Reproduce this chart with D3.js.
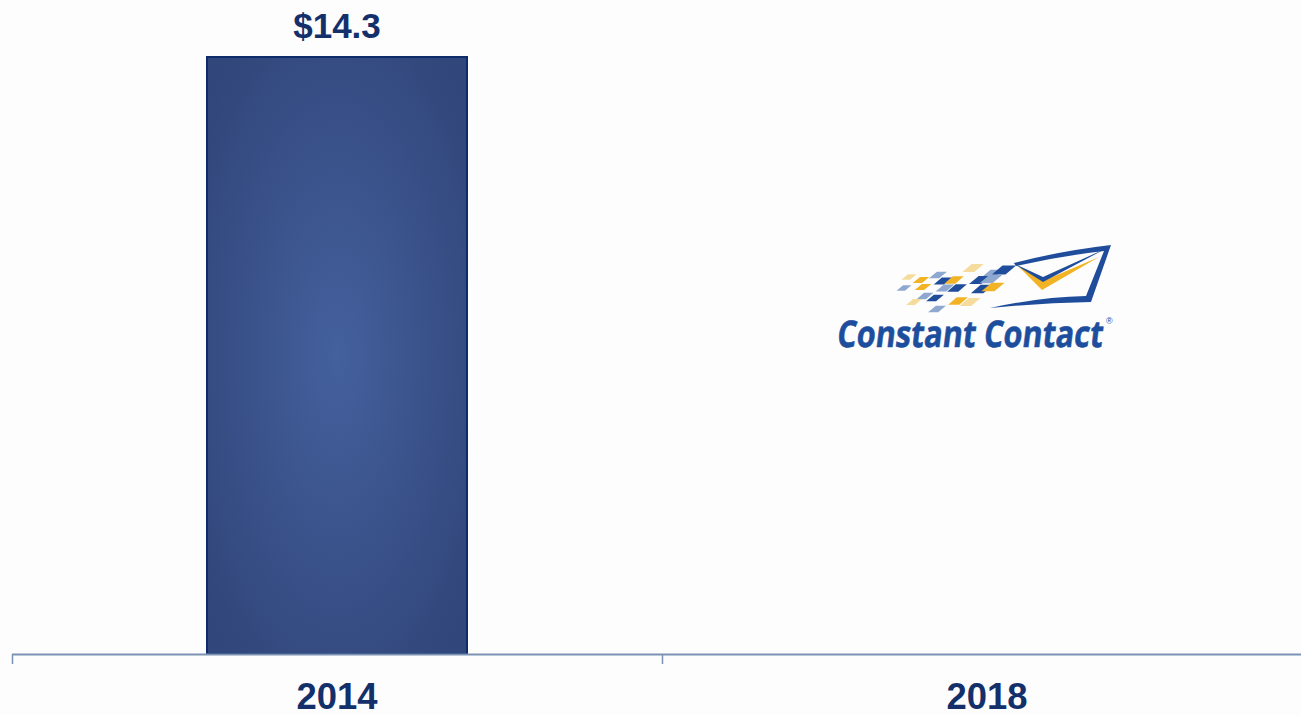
<!DOCTYPE html>
<html>
<head>
<meta charset="utf-8">
<script src="https://cdn.jsdelivr.net/npm/d3@7"></script>
<style>
  html, body { margin: 0; padding: 0; background: #fdfdfd; }
  svg { display: block; }
</style>
</head>
<body>
<svg id="chart" width="1301" height="715"></svg>
<script>
// ---- data ----
const categories = ["2014", "2018"];
const values = [14.3, null];
const valueLabels = ["$14.3", ""];

// logo squares: [x, y, colour-key]
const logoSquares = [
  [973, 268, "p"], [992, 274, "l"], [1004, 270, "d"], [938, 275, "l"],
  [909, 277, "p"], [921, 280, "y"], [943, 281, "d"], [954, 280, "y"],
  [980, 280, "d"], [991, 279, "l"], [904, 288, "l"], [923, 287, "y"],
  [945, 288, "l"], [957, 288, "d"], [982, 289, "d"], [993, 287, "y"],
  [925, 296, "l"], [935, 298, "d"], [958, 301, "y"], [970, 302, "p"],
  [914, 302, "p"], [937, 309, "l"]
];

const W = 1301, H = 715;
const svg = d3.select("#chart");
svg.append("rect").attr("width", W).attr("height", H).attr("fill", "#fdfdfd");

const x = d3.scaleBand().domain(categories).range([12, 1312])
  .paddingInner(0.6).paddingOuter(0.3);
const y = d3.scaleLinear().domain([0, 14.3]).range([654, 57]);

const defs = svg.append("defs");
const grad = defs.append("radialGradient").attr("id", "barGrad")
  .attr("cx", "50%").attr("cy", "50%").attr("r", "65%");
grad.append("stop").attr("offset", "0%").attr("stop-color", "#44609d");
grad.append("stop").attr("offset", "100%").attr("stop-color", "#31467a");

const data = categories.map((c, i) => ({ c, v: values[i], label: valueLabels[i] }));

svg.selectAll("rect.bar").data(data.filter(d => d.v != null)).join("rect")
  .attr("class", "bar")
  .attr("x", d => x(d.c))
  .attr("y", d => y(d.v))
  .attr("width", x.bandwidth())
  .attr("height", d => y(0) - y(d.v))
  .attr("fill", "url(#barGrad)")
  .attr("stroke", "#0e2c69")
  .attr("stroke-width", 2);

svg.selectAll("text.val").data(data.filter(d => d.v != null)).join("text")
  .attr("class", "val")
  .attr("x", d => x(d.c) + x.bandwidth() / 2)
  .attr("y", d => y(d.v) - 19)
  .attr("text-anchor", "middle")
  .attr("font-family", "Liberation Sans, Arial, sans-serif")
  .attr("font-weight", "bold")
  .attr("font-size", 35)
  .attr("fill", "#13306b")
  .text(d => d.label);

// axis
const step = x.step();
const r0 = x.range()[0];
svg.append("line")
  .attr("x1", r0).attr("x2", W)
  .attr("y1", y(0) + 0.5).attr("y2", y(0) + 0.5)
  .attr("stroke", "#7d91b3").attr("stroke-width", 2);
svg.selectAll("line.tick").data(d3.range(categories.length + 1)).join("line")
  .attr("class", "tick")
  .attr("x1", i => r0 + i * step + 0.5).attr("x2", i => r0 + i * step + 0.5)
  .attr("y1", y(0)).attr("y2", y(0) + 10)
  .attr("stroke", "#7d91b3").attr("stroke-width", 1.5);

svg.selectAll("text.cat").data(categories).join("text")
  .attr("class", "cat")
  .attr("x", d => x(d) + x.bandwidth() / 2)
  .attr("y", 709)
  .attr("text-anchor", "middle")
  .attr("font-family", "Liberation Sans, Arial, sans-serif")
  .attr("font-weight", "bold")
  .attr("font-size", 36)
  .attr("textLength", 81)
  .attr("lengthAdjust", "spacingAndGlyphs")
  .attr("fill", "#13306b")
  .text(d => d);

// ---- Constant Contact logo in 2018 slot ----
const ox = x("2018") + x.bandwidth() / 2 - 987;
const logo = svg.append("g").attr("transform", `translate(${ox},0)`);
const colours = { d: "#1f4d9b", l: "#8ea8d0", y: "#f2b325", p: "#f6dc9c" };
logo.selectAll("path.sq").data(logoSquares).join("path")
  .attr("class", "sq")
  .attr("d", d => {
    const s = 0.9 + (d[0] - 900) / 170;
    const w = 9 * s, h = 6 * s, sk = 3.5 * s;
    const cx = d[0], cy = d[1];
    return `M${cx - w / 2 + sk},${cy - h / 2} L${cx + w / 2 + sk},${cy - h / 2} L${cx + w / 2 - sk},${cy + h / 2} L${cx - w / 2 - sk},${cy + h / 2} Z`;
  })
  .attr("fill", d => colours[d[2]]);

// envelope
logo.append("path")
  .attr("d", "M1014,263 Q1060,251 1111,245 L1091,302 Q1040,303 990,308 Q1040,297 1086,296 L1104,251 Q1060,256 1016,266 Z")
  .attr("fill", "#1f4d9b");
logo.append("path")
  .attr("d", "M1018,266 L1042,290 L1099,257 L1043,281 Z")
  .attr("fill", "#f2b325");
logo.append("path")
  .attr("d", "M1013,263 L1043,277 L1107,248 L1043,282 Z")
  .attr("fill", "#1f4d9b");

logo.append("text")
  .attr("transform", "translate(836,347) skewX(-7)")
  .attr("font-family", "Open Sans, Liberation Sans, sans-serif")
  .attr("font-weight", "bold")
  .attr("font-size", 37)
  .attr("textLength", 266)
  .attr("lengthAdjust", "spacingAndGlyphs")
  .attr("fill", "#1d4e9e")
  .attr("stroke", "#1d4e9e")
  .attr("stroke-width", 0.6)
  .text("Constant Contact");
logo.append("text")
  .attr("x", 1106).attr("y", 324)
  .attr("font-family", "Liberation Sans, Arial, sans-serif")
  .attr("font-size", 9)
  .attr("fill", "#1d4e9e")
  .text("®");
</script>
</body>
</html>
